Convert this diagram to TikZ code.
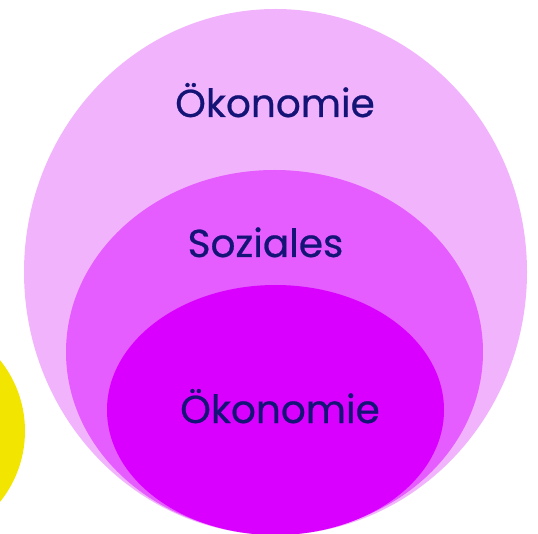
\documentclass[tikz,border=0pt]{standalone}
\usepackage{fontspec}
\setmainfont{Poppins}[FakeBold=0.6]
\usepackage{xcolor}
\definecolor{hellrosa}{RGB}{242,179,253}
\definecolor{mittelrosa}{RGB}{229,92,255}
\definecolor{magenta}{RGB}{218,0,255}
\definecolor{gelb}{RGB}{242,229,0}
\definecolor{tinte}{RGB}{20,20,118}

\begin{document}
\begin{tikzpicture}[x=1pt,y=1pt,yscale=-1,xscale=1]
                \useasboundingbox (0,0) rectangle (538,534);
                \clip (0,0) rectangle (538,534);
                % Kreise
                \fill [gelb] (-88,431) circle [radius=113];
                \fill [hellrosa] (275.5,272) ellipse [x radius=251.5, y radius=263];
                \fill [mittelrosa] (274.5,352) ellipse [x radius=208.5, y radius=182];
                \fill [magenta] (275.5,410) ellipse [x radius=168.5, y radius=125];

                % Text Node
                \draw (275,117) node [anchor=base][inner sep=0.75pt] (oben) {\fontsize{39}{44}\selectfont\color{tinte}Ökonomie};
                % Text Node
                \draw (265.5,257) node [anchor=base][inner sep=0.75pt] (mitte) {\fontsize{39}{44}\selectfont\color{tinte}Soziales};
                % Text Node
                \draw (280,423) node [anchor=base][inner sep=0.75pt] (unten) {\fontsize{39}{44}\selectfont\color{tinte}Ökonomie};
            \end{tikzpicture}
\end{document}
